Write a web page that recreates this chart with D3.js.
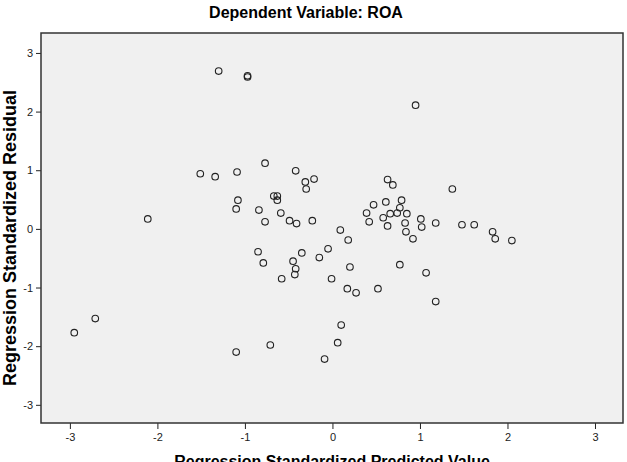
<!DOCTYPE html>
<html>
<head>
<meta charset="utf-8">
<script src="https://cdn.jsdelivr.net/npm/d3@7"></script>
<style>
  body { margin: 0; background: #fff; }
  svg { display: block; font-family: "Liberation Sans", Arial, sans-serif; }
  .tick text { font-size: 11px; fill: #222; }
  .tick line { stroke: #222; }
</style>
</head>
<body>
<script>
const width = 627, height = 462;
const margin = { left: 41, right: 4, top: 33, bottom: 39 };

// standardized predicted values (x) and standardized residuals (y)
const predicted = [
  -2.95, -2.71, -2.11, -1.51, -1.34, -1.30, -0.97, -0.97, -1.09, -1.08,
  -1.10, -0.77, -0.84, -0.77, -0.67, -0.63, -0.63, -0.59, -0.49, -0.41,
  -0.42, -0.31, -0.21, -0.30, -0.23, 0.09, 0.18, 0.95, 0.63, 0.69,
  0.61, 0.79, 0.47, 0.39, 0.77, 0.66, 0.74, 0.85, 0.58, 0.42,
  0.63, 0.83, 1.01, 1.02, 0.84, 0.92, 1.37, 1.18, 1.48, 1.62,
  1.83, 1.86, 2.05, 1.07, 1.18, -1.10, -0.85, -0.79, -0.45, -0.35,
  -0.42, -0.43, -0.58, -0.15, -0.05, 0.20, -0.01, 0.17, 0.27, 0.52,
  0.77, 0.10, 0.06, -0.09, -0.71
];
const residual = [
  -1.77, -1.53, 0.17, 0.94, 0.89, 2.69, 2.59, 2.61, 0.97, 0.49,
  0.34, 1.12, 0.32, 0.12, 0.56, 0.56, 0.49, 0.27, 0.14, 0.09,
  0.99, 0.80, 0.85, 0.68, 0.14, -0.02, -0.19, 2.11, 0.84, 0.75,
  0.46, 0.49, 0.41, 0.27, 0.36, 0.26, 0.27, 0.26, 0.19, 0.12,
  0.05, 0.10, 0.17, 0.03, -0.05, -0.17, 0.68, 0.10, 0.07, 0.07,
  -0.05, -0.17, -0.20, -0.75, -1.24, -2.10, -0.39, -0.58, -0.55, -0.41,
  -0.68, -0.78, -0.85, -0.49, -0.34, -0.65, -0.85, -1.02, -1.09, -1.02,
  -0.61, -1.64, -1.94, -2.22, -1.98
];
const tickValues = [-3, -2, -1, 0, 1, 2, 3];

const points = predicted.map((p, i) => ({ x: p, y: residual[i] }));

const x = d3.scaleLinear().domain([-3.33, 3.32]).range([margin.left, width - margin.right]);
const y = d3.scaleLinear().domain([-3.31, 3.34]).range([height - margin.bottom, margin.top]);

const svg = d3.select('body').append('svg')
    .attr('width', width).attr('height', height);

svg.append('rect')
    .attr('x', margin.left).attr('y', margin.top)
    .attr('width', width - margin.left - margin.right)
    .attr('height', height - margin.top - margin.bottom)
    .attr('fill', '#f0f0f0');

svg.append('g')
    .attr('transform', `translate(0,${height - margin.bottom})`)
    .call(d3.axisBottom(x).tickValues(tickValues).tickSize(6).tickPadding(4).tickFormat(d => String(d)))
    .call(g => g.select('.domain').remove());

svg.append('g')
    .attr('transform', `translate(${margin.left},0)`)
    .call(d3.axisLeft(y).tickValues(tickValues).tickSize(5).tickPadding(3).tickFormat(d => String(d)))
    .call(g => g.select('.domain').remove());

svg.append('g').selectAll('circle')
    .data(points)
    .join('circle')
    .attr('cx', d => x(d.x))
    .attr('cy', d => y(d.y))
    .attr('r', 3.3)
    .attr('fill', 'none')
    .attr('stroke', '#222')
    .attr('stroke-width', 1.1);

// plot frame
svg.append('rect')
    .attr('x', margin.left).attr('y', margin.top)
    .attr('width', width - margin.left - margin.right)
    .attr('height', height - margin.top - margin.bottom)
    .attr('fill', 'none')
    .attr('stroke', '#333')
    .attr('stroke-width', 1.5);

svg.append('text')
    .attr('x', 306).attr('y', 18)
    .attr('text-anchor', 'middle')
    .attr('font-size', 16).attr('font-weight', 'bold')
    .text('Dependent Variable: ROA');

svg.append('text')
    .attr('transform', 'translate(16,238) rotate(-90)')
    .attr('text-anchor', 'middle')
    .attr('font-size', 18).attr('font-weight', 'bold')
    .text('Regression Standardized Residual');

svg.append('text')
    .attr('x', 332).attr('y', 467)
    .attr('text-anchor', 'middle')
    .attr('font-size', 16).attr('font-weight', 'bold')
    .text('Regression Standardized Predicted Value');
</script>
</body>
</html>
